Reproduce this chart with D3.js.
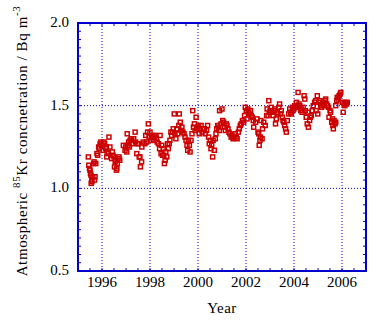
<!DOCTYPE html>
<html>
<head>
<meta charset="utf-8">
<script src="https://cdn.jsdelivr.net/npm/d3@7"></script>
<style>
  body { margin: 0; background: #fff; }
  text { font-family: 'Liberation Serif', 'DejaVu Serif', serif; fill: #000; }
</style>
</head>
<body>
<script>
// sample dates (decimal year) and 85Kr activity (Bq/m3)
const sampleYear = [
  1995.43, 1995.45, 1995.48, 1995.50, 1995.52, 1995.54, 1995.55, 1995.57, 1995.58, 1995.62, 1995.65, 1995.67, 1995.69, 1995.71, 1995.74,
  1995.79, 1995.82, 1995.86, 1995.88, 1995.92, 1995.95, 1995.98, 1996.01, 1996.04, 1996.08, 1996.11, 1996.15, 1996.18, 1996.20, 1996.22, 1996.26, 1996.29, 1996.33,
  1996.40, 1996.43, 1996.46, 1996.50, 1996.52, 1996.55, 1996.57, 1996.60, 1996.62, 1996.64, 1996.67, 1996.71, 1996.74,
  1996.89, 1996.96, 1996.99, 1997.03, 1997.05, 1997.08, 1997.11, 1997.14, 1997.17, 1997.21, 1997.24, 1997.28, 1997.32,
  1997.38, 1997.40, 1997.45, 1997.48, 1997.51, 1997.55, 1997.58, 1997.60, 1997.65, 1997.66, 1997.72, 1997.79,
  1997.82, 1997.86, 1997.90, 1997.93, 1997.96, 1998.00, 1998.04, 1998.07, 1998.11, 1998.14, 1998.18, 1998.21, 1998.26, 1998.30, 1998.35,
  1998.40, 1998.42, 1998.46, 1998.49, 1998.52, 1998.55, 1998.57, 1998.60, 1998.63, 1998.66, 1998.70, 1998.73, 1998.76,
  1998.80, 1998.83, 1998.87, 1998.90, 1998.94, 1998.97, 1999.01, 1999.04, 1999.08, 1999.12, 1999.16, 1999.20, 1999.22, 1999.26, 1999.30, 1999.33, 1999.37,
  1999.42, 1999.46, 1999.50, 1999.54, 1999.57, 1999.60, 1999.64, 1999.67, 1999.71,
  1999.75, 1999.78, 1999.81, 1999.85, 1999.88, 1999.92, 1999.95, 1999.99, 2000.03, 2000.05, 2000.09, 2000.13, 2000.17, 2000.22, 2000.26, 2000.30, 2000.36, 2000.40,
  2000.44, 2000.47, 2000.51, 2000.54, 2000.57, 2000.61, 2000.63, 2000.68, 2000.72,
  2000.75, 2000.78, 2000.82, 2000.86, 2000.89, 2000.90, 2000.96, 2001.00, 2001.03, 2001.07, 2001.10, 2001.14, 2001.18, 2001.21, 2001.25, 2001.29,
  2001.33, 2001.38, 2001.42, 2001.46, 2001.50, 2001.55, 2001.59, 2001.63, 2001.68,
  2001.72, 2001.76, 2001.80, 2001.85, 2001.90, 2001.94, 2001.97, 2002.01, 2002.04, 2002.08, 2002.11, 2002.15, 2002.19, 2002.22, 2002.26, 2002.30, 2002.32,
  2002.40, 2002.46, 2002.50, 2002.53, 2002.55, 2002.58, 2002.60, 2002.62, 2002.67, 2002.69, 2002.74, 2002.80,
  2002.86, 2002.88, 2002.92, 2002.95, 2002.97, 2003.01, 2003.05, 2003.09, 2003.13, 2003.17, 2003.20, 2003.23, 2003.26, 2003.30,
  2003.33, 2003.37, 2003.40, 2003.44, 2003.47, 2003.51, 2003.54, 2003.58, 2003.61, 2003.65, 2003.68, 2003.72,
  2003.78, 2003.82, 2003.86, 2003.89, 2003.93, 2003.96, 2004.00, 2004.03, 2004.07, 2004.10, 2004.14, 2004.17, 2004.21, 2004.24, 2004.28, 2004.30, 2004.34,
  2004.38, 2004.42, 2004.45, 2004.47, 2004.51, 2004.55, 2004.58, 2004.60, 2004.65, 2004.68, 2004.72, 2004.76,
  2004.80, 2004.86, 2004.90, 2004.92, 2004.97, 2004.99, 2005.04, 2005.08, 2005.11, 2005.15, 2005.18, 2005.22, 2005.26, 2005.30, 2005.32, 2005.36,
  2005.40, 2005.44, 2005.46, 2005.50, 2005.53, 2005.57, 2005.60, 2005.62, 2005.64, 2005.67, 2005.71, 2005.74,
  2005.74, 2005.78, 2005.80, 2005.84, 2005.88, 2005.92, 2005.95, 2006.01, 2006.05, 2006.08, 2006.12, 2006.15, 2006.19, 2006.22
];
const krConc = [
  1.19, 1.14, 1.12, 1.11, 1.09, 1.08, 1.03, 1.05, 1.04, 1.07, 1.15, 1.16, 1.05, 1.07, 1.15,
  1.21, 1.20, 1.25, 1.24, 1.27, 1.28, 1.26, 1.26, 1.23, 1.28, 1.27, 1.24, 1.25, 1.19, 1.22, 1.21, 1.31, 1.25,
  1.18, 1.22, 1.20, 1.19, 1.13, 1.16, 1.17, 1.11, 1.12, 1.15, 1.18, 1.19, 1.17,
  1.26, 1.23, 1.25, 1.22, 1.33, 1.26, 1.28, 1.25, 1.29, 1.30, 1.29, 1.27, 1.30,
  1.34, 1.28, 1.21, 1.27, 1.27, 1.19, 1.19, 1.13, 1.16, 1.25, 1.28, 1.27,
  1.32, 1.28, 1.34, 1.39, 1.31, 1.34, 1.29, 1.31, 1.32, 1.29, 1.31, 1.32, 1.30, 1.28, 1.27,
  1.24, 1.32, 1.21, 1.26, 1.20, 1.24, 1.20, 1.15, 1.17, 1.22, 1.19, 1.27, 1.24,
  1.27, 1.29, 1.34, 1.32, 1.34, 1.36, 1.45, 1.33, 1.30, 1.36, 1.33, 1.38, 1.45, 1.40, 1.35, 1.37, 1.34,
  1.33, 1.31, 1.29, 1.26, 1.23, 1.29, 1.26, 1.22, 1.29,
  1.33, 1.47, 1.37, 1.39, 1.35, 1.43, 1.36, 1.37, 1.38, 1.33, 1.36, 1.38, 1.34, 1.36, 1.36, 1.33, 1.35, 1.38,
  1.31, 1.27, 1.29, 1.24, 1.26, 1.19, 1.29, 1.23, 1.30,
  1.33, 1.36, 1.38, 1.37, 1.35, 1.47, 1.39, 1.48, 1.41, 1.40, 1.37, 1.35, 1.39, 1.38, 1.36, 1.34,
  1.33, 1.31, 1.32, 1.30, 1.31, 1.33, 1.31, 1.30, 1.34,
  1.36, 1.38, 1.39, 1.41, 1.40, 1.44, 1.49, 1.47, 1.42, 1.48, 1.46, 1.45, 1.47, 1.44, 1.43, 1.41, 1.37,
  1.40, 1.42, 1.34, 1.33, 1.26, 1.29, 1.31, 1.41, 1.30, 1.36, 1.40, 1.38,
  1.44, 1.48, 1.44, 1.53, 1.46, 1.47, 1.49, 1.46, 1.44, 1.47, 1.48, 1.39, 1.42, 1.46,
  1.45, 1.49, 1.51, 1.45, 1.47, 1.43, 1.41, 1.40, 1.38, 1.36, 1.34, 1.41,
  1.45, 1.48, 1.46, 1.45, 1.49, 1.47, 1.48, 1.50, 1.49, 1.52, 1.50, 1.58, 1.51, 1.50, 1.47, 1.48, 1.46,
  1.49, 1.56, 1.54, 1.47, 1.43, 1.39, 1.46, 1.37, 1.41, 1.43, 1.44, 1.47,
  1.50, 1.52, 1.53, 1.47, 1.56, 1.45, 1.52, 1.53, 1.50, 1.49, 1.51, 1.52, 1.50, 1.53, 1.54, 1.51,
  1.50, 1.49, 1.43, 1.47, 1.46, 1.40, 1.42, 1.38, 1.36, 1.41, 1.39, 1.40,
  1.50, 1.53, 1.55, 1.54, 1.56, 1.57, 1.58, 1.52, 1.46, 1.51, 1.50, 1.52, 1.51, 1.52
];

const xTickYears = [1996, 1998, 2000, 2002, 2004, 2006];
const yTickValues = [0.5, 1.0, 1.5, 2.0];

const width = 384, height = 322;
const margin = { top: 23, right: 18, bottom: 51, left: 78 };
const axisBlue = '#0000cc';
const markRed = '#cc0000';

const svg = d3.select('body').append('svg').attr('width', width).attr('height', height);

const x = d3.scaleLinear().domain([1995, 2007]).range([margin.left, width - margin.right]);
const y = d3.scaleLinear().domain([0.5, 2.0]).range([height - margin.bottom, margin.top]);

// dotted grid
svg.append('g')
  .selectAll('line')
  .data(xTickYears)
  .join('line')
  .attr('x1', (d) => x(d)).attr('x2', (d) => x(d))
  .attr('y1', y(2.0)).attr('y2', y(0.5))
  .attr('stroke', axisBlue).attr('stroke-width', 1)
  .attr('stroke-dasharray', '1,2');

svg.append('g')
  .selectAll('line')
  .data([1.0, 1.5])
  .join('line')
  .attr('x1', x(1995)).attr('x2', x(2007))
  .attr('y1', (d) => y(d)).attr('y2', (d) => y(d))
  .attr('stroke', axisBlue).attr('stroke-width', 1)
  .attr('stroke-dasharray', '1,2');

// minor ticks on all four sides
const xMinor = d3.range(1995.5, 2007, 0.5);
const yMinor = d3.range(0.55, 2.0, 0.05);
const ticks = svg.append('g').attr('stroke', axisBlue).attr('stroke-width', 1);
ticks.selectAll('.xb').data(xMinor).join('line').attr('class', 'xb')
  .attr('x1', (d) => x(d)).attr('x2', (d) => x(d))
  .attr('y1', y(0.5)).attr('y2', y(0.5) - 3);
ticks.selectAll('.xt').data(xMinor).join('line').attr('class', 'xt')
  .attr('x1', (d) => x(d)).attr('x2', (d) => x(d))
  .attr('y1', y(2.0)).attr('y2', y(2.0) + 3);
ticks.selectAll('.yl').data(yMinor).join('line').attr('class', 'yl')
  .attr('x1', x(1995)).attr('x2', x(1995) + 3)
  .attr('y1', (d) => y(d)).attr('y2', (d) => y(d));
ticks.selectAll('.yr').data(yMinor).join('line').attr('class', 'yr')
  .attr('x1', x(2007)).attr('x2', x(2007) - 3)
  .attr('y1', (d) => y(d)).attr('y2', (d) => y(d));

// data markers: open squares
svg.append('g')
  .selectAll('rect')
  .data(d3.zip(sampleYear, krConc))
  .join('rect')
  .attr('x', (d) => x(d[0]) - 2)
  .attr('y', (d) => y(d[1]) - 2)
  .attr('width', 4).attr('height', 4)
  .attr('fill', 'none')
  .attr('stroke', markRed)
  .attr('stroke-width', 1.5);

// frame
svg.append('rect')
  .attr('x', x(1995)).attr('y', y(2.0))
  .attr('width', x(2007) - x(1995)).attr('height', y(0.5) - y(2.0))
  .attr('fill', 'none').attr('stroke', axisBlue).attr('stroke-width', 2);

// tick labels
svg.append('g')
  .selectAll('text')
  .data(xTickYears)
  .join('text')
  .attr('x', (d) => x(d)).attr('y', 287)
  .attr('text-anchor', 'middle')
  .style('font-size', '15px')
  .text((d) => d);

svg.append('g')
  .selectAll('text')
  .data(yTickValues)
  .join('text')
  .attr('x', 69).attr('y', (d) => y(d) + 4)
  .attr('text-anchor', 'end')
  .style('font-size', '15px')
  .text((d) => d.toFixed(1));

// axis titles
svg.append('text')
  .attr('x', x(2001)).attr('y', 313)
  .attr('text-anchor', 'middle')
  .style('font-size', '15px')
  .style('letter-spacing', '0.5px')
  .text('Year');

const yTitle = svg.append('text')
  .attr('transform', 'translate(27,141) rotate(-90)')
  .attr('text-anchor', 'middle')
  .style('font-size', '15px')
  .style('letter-spacing', '0.6px');
yTitle.append('tspan').text('Atmospheric ');
yTitle.append('tspan').attr('dy', -7).style('font-size', '11px').text('85');
yTitle.append('tspan').attr('dy', 7).text('Kr concnetration / Bq m');
yTitle.append('tspan').attr('dy', -7).style('font-size', '11px').text('-3');
</script>
</body>
</html>
